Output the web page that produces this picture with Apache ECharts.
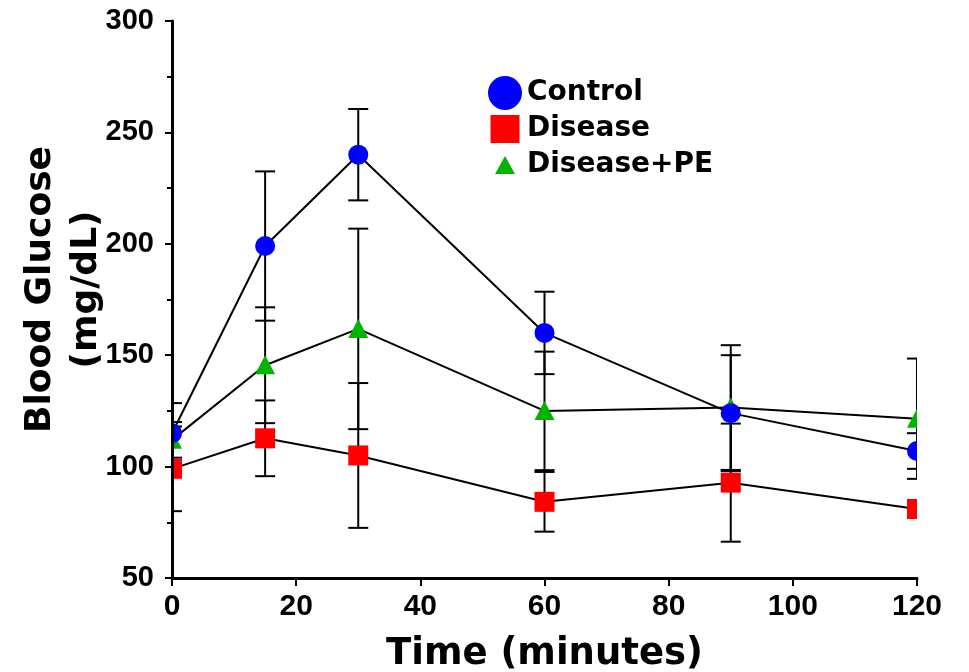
<!DOCTYPE html>
<html>
<head>
<meta charset="utf-8">
<script src="https://cdn.jsdelivr.net/npm/echarts@6/dist/echarts.min.js"></script>
<style>
html, body { margin: 0; padding: 0; background: #fff; }
#chart { width: 969px; height: 672px; }
</style>
</head>
<body>
<div id="chart"></div>
<script>
// time points (minutes)
var time = [0, 15, 30, 60, 90, 120];

// blood glucose means and error (mg/dL)
var control = [115, 199, 240, 160, 124, 107];
var controlErr = [13.5, 33.5, 20.5, 18.5, 26, 8];
var disease = [99, 112.7, 105, 84.2, 92.8, 81];
var diseaseErr = [19, 17, 32.5, 13.4, 26.5, 4];
var diseasePE = [112, 145.5, 161.8, 125, 126.5, 121.5];
var diseasePEErr = [8, 26, 45, 26.6, 28, 27];

var yTicks = [50, 100, 150, 200, 250, 300];
var xTicks = [0, 20, 40, 60, 80, 100, 120];

var tickFont = "'Liberation Sans', Arial, sans-serif";
var titleFont = "'DejaVu Sans', Verdana, sans-serif";

function pairs(ys, errs) {
    var out = [];
    for (var i = 0; i < time.length; i++) {
        out.push(errs ? [time[i], ys[i], errs[i]] : [time[i], ys[i]]);
    }
    return out;
}

function errorBars(params, api) {
    var x = api.value(0), y = api.value(1), e = api.value(2);
    var hi = api.coord([x, y + e]);
    var lo = api.coord([x, y - e]);
    var half = 10;
    var st = { stroke: "#000", lineWidth: 2 };
    return {
        type: "group",
        children: [
            { type: "line", shape: { x1: hi[0], y1: hi[1], x2: lo[0], y2: lo[1] }, style: st },
            { type: "line", shape: { x1: hi[0] - half, y1: hi[1], x2: hi[0] + half, y2: hi[1] }, style: st },
            { type: "line", shape: { x1: lo[0] - half, y1: lo[1], x2: lo[0] + half, y2: lo[1] }, style: st }
        ]
    };
}

function markerRenderer(kind, color) {
    return function(params, api) {
        var p = api.coord([api.value(0), api.value(1)]);
        if (kind === "circle") {
            return { type: "circle", shape: { cx: p[0], cy: p[1], r: 10 }, style: { fill: color } };
        }
        if (kind === "rect") {
            return { type: "rect", shape: { x: p[0] - 10, y: p[1] - 10, width: 20, height: 20 }, style: { fill: color } };
        }
        return {
            type: "polygon",
            shape: { points: [[p[0], p[1] - 10], [p[0] + 10, p[1] + 9], [p[0] - 10, p[1] + 9]] },
            style: { fill: color }
        };
    };
}

var myChart = echarts.init(document.getElementById("chart"));

var option = {
    animation: false,
    backgroundColor: "#fff",
    grid: { left: 172, right: 52, top: 21, bottom: 94, containLabel: false, outerBoundsMode: "none" },
    legend: {
        orient: "vertical",
        left: 483,
        top: 71,
        itemWidth: 34,
        itemHeight: 34,
        itemGap: 2,
        selectedMode: false,
        textStyle: { fontFamily: titleFont, fontWeight: "bold", fontSize: 28, color: "#000" },
        data: [
            { name: "Control", icon: "circle" },
            { name: "Disease", icon: "path://M0,0 M2.5,3H31.5V31H2.5Z M34,34" },
            { name: "Disease+PE", icon: "path://M0,0 M17,8L27,26L7,26Z M34,34" }
        ]
    },
    xAxis: {
        type: "value",
        min: 0,
        max: 120,
        interval: 20,
        z: 10,
        name: "Time (minutes)",
        nameLocation: "middle",
        nameGap: 58,
        nameTextStyle: { fontFamily: titleFont, fontWeight: "bold", fontSize: 37, color: "#000" },
        axisLine: { lineStyle: { color: "#000", width: 3 } },
        axisTick: { length: 8, lineStyle: { color: "#000", width: 2 } },
        axisLabel: {
            margin: 14,
            fontFamily: tickFont,
            fontWeight: "bold",
            fontSize: 30,
            color: "#000",
            formatter: function(v) { return xTicks.indexOf(v) >= 0 ? String(v) : ""; }
        },
        splitLine: { show: false }
    },
    yAxis: {
        type: "value",
        min: 50,
        max: 300,
        interval: 50,
        z: 10,
        name: "Blood Glucose\n(mg/dL)",
        nameLocation: "middle",
        nameRotate: 90,
        nameGap: 62,
        nameMoveOverlap: false,
        nameTextStyle: {
            fontFamily: titleFont,
            fontWeight: "bold",
            fontSize: 36,
            lineHeight: 46,
            color: "#000",
            padding: [0, 0, 0, 20]
        },
        axisLine: { show: true, lineStyle: { color: "#000", width: 3 } },
        axisTick: { length: 7, lineStyle: { color: "#000", width: 2 } },
        minorTick: { show: true, splitNumber: 2, length: 5, lineStyle: { color: "#000", width: 2 } },
        axisLabel: {
            margin: 18,
            fontFamily: tickFont,
            fontWeight: "bold",
            fontSize: 29,
            color: "#000",
            formatter: function(v) { return yTicks.indexOf(v) >= 0 ? String(v) : ""; }
        },
        splitLine: { show: false }
    },
    series: [
        { name: "line-pe", type: "line", data: pairs(diseasePE), symbol: "none", lineStyle: { color: "#000", width: 2 }, z: 2 },
        { name: "line-disease", type: "line", data: pairs(disease), symbol: "none", lineStyle: { color: "#000", width: 2 }, z: 2 },
        { name: "line-control", type: "line", data: pairs(control), symbol: "none", lineStyle: { color: "#000", width: 2 }, z: 2 },
        { name: "err-pe", type: "custom", clip: true, data: pairs(diseasePE, diseasePEErr), renderItem: errorBars, z: 3 },
        { name: "err-disease", type: "custom", clip: true, data: pairs(disease, diseaseErr), renderItem: errorBars, z: 3 },
        { name: "err-control", type: "custom", clip: true, data: pairs(control, controlErr), renderItem: errorBars, z: 3 },
        { name: "Disease+PE", type: "custom", clip: true, data: pairs(diseasePE), itemStyle: { color: "#00b400" }, renderItem: markerRenderer("triangle", "#00b400"), z: 4 },
        { name: "Disease", type: "custom", clip: true, data: pairs(disease), itemStyle: { color: "#ff0000" }, renderItem: markerRenderer("rect", "#ff0000"), z: 5 },
        { name: "Control", type: "custom", clip: true, data: pairs(control), itemStyle: { color: "#0000ff" }, renderItem: markerRenderer("circle", "#0000ff"), z: 6 }
    ]
};

myChart.setOption(option);
</script>
</body>
</html>
